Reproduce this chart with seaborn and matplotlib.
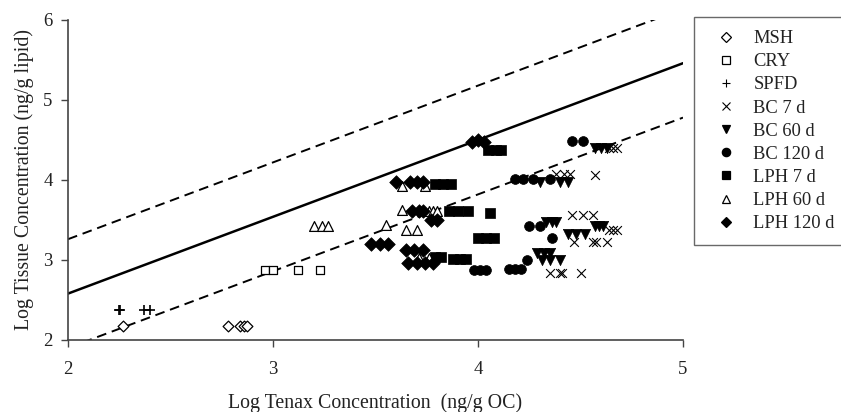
import numpy as np
import pandas as pd
import matplotlib
matplotlib.use("Agg")
import matplotlib.pyplot as plt
import seaborn as sns
from matplotlib.lines import Line2D

sns.set_theme(style="white")
plt.rcParams['font.family'] = ['Liberation Serif', 'DejaVu Serif']

# ---- data (log Tenax conc, log tissue conc) ----
msh_x = [2.27, 2.78, 2.84, 2.86, 2.875]
msh_y = [2.17, 2.17, 2.17, 2.17, 2.17]
cry_x = [2.96, 3.00, 3.12, 3.23]
cry_y = [2.88, 2.88, 2.88, 2.88]
spfd_x = [2.25, 2.255, 2.37, 2.40]
spfd_y = [2.375, 2.375, 2.375, 2.375]
bc7_x = [4.64, 4.66, 4.68, 4.38, 4.42, 4.45, 4.57, 4.46, 4.51, 4.56,
         4.64, 4.66, 4.68, 4.47, 4.56, 4.575, 4.63, 4.35, 4.40, 4.41, 4.50]
bc7_y = [4.40, 4.40, 4.40, 4.07, 4.07, 4.07, 4.06, 3.56, 3.56, 3.56,
         3.38, 3.38, 3.38, 3.23, 3.23, 3.23, 3.23, 2.84, 2.84, 2.84, 2.84]
bc60_x = [4.57, 4.60, 4.63, 4.30, 4.40, 4.44, 4.33, 4.36, 4.38, 4.57, 4.59, 4.61,
          4.44, 4.48, 4.52, 4.29, 4.32, 4.35, 4.31, 4.35, 4.40]
bc60_y = [4.40, 4.40, 4.40, 3.97, 3.97, 3.97, 3.48, 3.48, 3.48, 3.42, 3.42, 3.42,
          3.33, 3.33, 3.33, 3.09, 3.09, 3.09, 3.00, 3.00, 3.00]
bc120_x = [4.46, 4.51, 4.18, 4.22, 4.27, 4.35, 4.25, 4.30, 4.36, 4.24,
           3.98, 4.01, 4.04, 4.15, 4.18, 4.21]
bc120_y = [4.49, 4.49, 4.01, 4.01, 4.01, 4.01, 3.42, 3.42, 3.27, 3.00,
           2.875, 2.875, 2.875, 2.89, 2.89, 2.89]
lph7_x = [4.05, 4.09, 4.11, 3.79, 3.83, 3.87, 3.86, 3.90, 3.95, 4.06,
          4.00, 4.04, 4.08, 3.79, 3.82, 3.88, 3.91, 3.94]
lph7_y = [4.38, 4.38, 4.38, 3.95, 3.95, 3.95, 3.61, 3.61, 3.61, 3.59,
          3.27, 3.27, 3.27, 3.04, 3.04, 3.01, 3.01, 3.01]
lph60_x = [3.20, 3.24, 3.27, 3.55, 3.63, 3.74, 3.63, 3.76, 3.78, 3.80,
           3.65, 3.70, 3.71, 3.76]
lph60_y = [3.43, 3.43, 3.43, 3.44, 3.93, 3.93, 3.62, 3.61, 3.61, 3.61,
           3.37, 3.37, 3.03, 3.03]
lph120_x = [3.97, 4.00, 4.03, 3.60, 3.67, 3.70, 3.73, 3.68, 3.71, 3.73,
            3.77, 3.80, 3.48, 3.52, 3.56, 3.65, 3.69, 3.73, 3.66, 3.70, 3.74, 3.78]
lph120_y = [4.48, 4.50, 4.48, 3.98, 3.98, 3.98, 3.98, 3.61, 3.61, 3.61,
            3.50, 3.50, 3.20, 3.20, 3.20, 3.13, 3.13, 3.13, 2.96, 2.96, 2.96, 2.96]

labels = ["MSH", "CRY", "SPFD", "BC 7 d", "BC 60 d", "BC 120 d", "LPH 7 d", "LPH 60 d", "LPH 120 d"]
xs = [msh_x, cry_x, spfd_x, bc7_x, bc60_x, bc120_x, lph7_x, lph60_x, lph120_x]
ys = [msh_y, cry_y, spfd_y, bc7_y, bc60_y, bc120_y, lph7_y, lph60_y, lph120_y]

# regression line and bounds
slope = 0.96
intercept = 0.66
band = 0.68

# styles
styles = {
    "MSH":       dict(marker="D", s=30, facecolor="white", edgecolor="black", linewidth=0.9),
    "CRY":       dict(marker="s", s=30, facecolor="white", edgecolor="black", linewidth=0.9),
    "SPFD":      dict(marker="+", s=60, color="black", linewidth=1.2),
    "BC 7 d":    dict(marker="x", s=40, color="black", linewidth=0.8),
    "BC 60 d":   dict(marker="v", s=55, color="black", edgecolor="black", linewidth=0.5),
    "BC 120 d":  dict(marker="o", s=50, color="black", edgecolor="black", linewidth=0.5),
    "LPH 7 d":   dict(marker="s", s=48, color="black", edgecolor="black", linewidth=0.5),
    "LPH 60 d":  dict(marker="^", s=50, facecolor="white", edgecolor="black", linewidth=0.9),
    "LPH 120 d": dict(marker="D", s=48, color="black", edgecolor="black", linewidth=0.5),
}

fig = plt.figure(figsize=(8.41, 4.12), dpi=100)
ax = fig.add_axes([68/841, 72/412, 615/841, 320/412])

lx = np.linspace(2, 5, 200)
sns.lineplot(x=lx, y=slope*lx+intercept, ax=ax, color="black", linewidth=1.8)
sns.lineplot(x=lx, y=slope*lx+intercept+band, ax=ax, color="black", linewidth=1.4, linestyle=(0, (5, 3)))
sns.lineplot(x=lx, y=slope*lx+intercept-band, ax=ax, color="black", linewidth=1.4, linestyle=(0, (5, 3)))

for lab, x, y in zip(labels, xs, ys):
    df = pd.DataFrame({"x": x, "y": y})
    sns.scatterplot(data=df, x="x", y="y", ax=ax, legend=False, zorder=3, **styles[lab])

ax.set_xlim(2, 5)
ax.set_ylim(2, 6)
ax.set_xticks([2, 3, 4, 5])
ax.set_yticks([2, 3, 4, 5, 6])
ax.set_xlabel("Log Tenax Concentration  (ng/g OC)", fontsize=14.3, color="#222222", labelpad=11)
ax.set_ylabel("Log Tissue Concentration (ng/g lipid)", fontsize=14.3, color="#222222", labelpad=7)
ax.tick_params(axis="x", pad=10)
ax.tick_params(axis="y", pad=6)
ax.tick_params(axis="both", direction="out", length=5, width=1, color="#444444",
               labelsize=13.5, labelcolor="#222222", bottom=True, left=True)
for sp in ["top", "right"]:
    ax.spines[sp].set_visible(False)
for sp in ["left", "bottom"]:
    ax.spines[sp].set_color("#444444")
    ax.spines[sp].set_linewidth(1.2)

handles = []
for lab in labels:
    st = styles[lab]
    mk = st["marker"]
    if mk in ("+", "x"):
        h = Line2D([], [], linestyle="none", marker=mk, color="black", markersize=6, markeredgewidth=0.8)
    else:
        fc = st.get("facecolor", "black")
        h = Line2D([], [], linestyle="none", marker=mk, markerfacecolor=fc, markeredgecolor="black",
                   markersize=5.5 if mk != "o" else 6, markeredgewidth=0.9)
    handles.append(h)

leg = fig.legend(handles, labels, loc="upper left", bbox_to_anchor=(694/841, 1 - 17/412),
                 frameon=True, fancybox=False, fontsize=13.3, handlelength=2.0, handletextpad=0.5,
                 labelspacing=0.33, borderpad=0.72, borderaxespad=0)
leg.get_frame().set_edgecolor("#444444")
leg.get_frame().set_linewidth(1.0)
for t in leg.get_texts():
    t.set_color("#222222")

fig.savefig("out.png", dpi=100)
